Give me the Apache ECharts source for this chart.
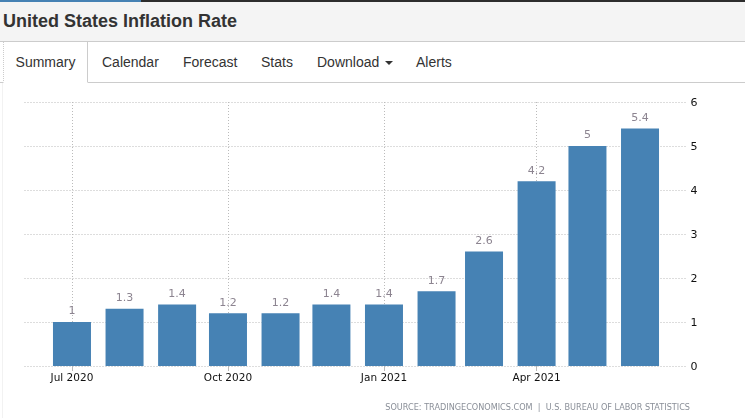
<!DOCTYPE html>
<html>
<head>
<meta charset="utf-8">
<title>United States Inflation Rate</title>
<script src="https://cdn.jsdelivr.net/npm/echarts@6/dist/echarts.min.js"></script>
<style>
	html, body { margin: 0; padding: 0; background: #fff; overflow: hidden; }
	body { width: 745px; height: 418px; position: relative; font-family: "Liberation Sans", Arial, sans-serif; }
	#topbar { height: 2px; background: #2d2d2d; }
	#topbar div { width: 141px; height: 2px; background: #4682b4; }
	#title { height: 39px; line-height: 38px; padding-left: 3px; background: #f4f4f4; border-bottom: 1px solid #ccc;
		font-size: 18px; font-weight: bold; color: #333; }
	#tabs { height: 40px; border-bottom: 1px solid #ccc; position: relative; font-size: 14px; color: #333; }
	#tabs span { position: absolute; top: 12px; }
	#tabs .active { left: 3px; top: 0; width: 83px; height: 40px; background: #fff; border-left: 1px dotted #ccc;
		border-right: 1px solid #ccc; border-bottom: 1px solid #fff; line-height: 40px; text-align: center; }
	#caret { display: inline-block; margin-left: 6px; vertical-align: 2px; border-top: 4px solid #333;
		border-left: 4px solid transparent; border-right: 4px solid transparent; }
	#rail { position: absolute; left: 2px; top: 83px; width: 1px; height: 335px; background: #f2f2f2; }
	#main { position: absolute; left: 0; top: 83px; width: 745px; height: 335px; }
</style>
</head>
<body>
<div id="topbar"><div></div></div>
<div id="title">United States Inflation Rate</div>
<div id="tabs">
	<span class="active">Summary</span>
	<span style="left:102px">Calendar</span>
	<span style="left:183px">Forecast</span>
	<span style="left:261px">Stats</span>
	<span style="left:317px">Download<i id="caret"></i></span>
	<span style="left:416px">Alerts</span>
</div>
<div id="rail"></div>
<div id="main"></div>
<script>
// monthly readings
var months = ['2020-07-01', '2020-08-01', '2020-09-01', '2020-10-01', '2020-11-01', '2020-12-01',
	'2021-01-01', '2021-02-01', '2021-03-01', '2021-04-01', '2021-05-01', '2021-06-01'];
var rates = [1, 1.3, 1.4, 1.2, 1.2, 1.4, 1.4, 1.7, 2.6, 4.2, 5, 5.4];
var tickDates = ['2020-07-01', '2020-10-01', '2021-01-01', '2021-04-01'];
var tickLabels = ['Jul 2020', 'Oct 2020', 'Jan 2021', 'Apr 2021'];
var sourceText = 'SOURCE: TRADINGECONOMICS.COM  |  U.S. BUREAU OF LABOR STATISTICS';

function toTime(d) { return new Date(d + 'T00:00:00Z').getTime(); }
var tickTimes = tickDates.map(toTime);
var seriesData = months.map(function (m, i) { return [toTime(m), rates[i]]; });
var axisFont = '"DejaVu Sans", Verdana, sans-serif';
var gridDots = { color: '#bbb', width: 1, type: [1, 2] };

var chart = echarts.init(document.getElementById('main'), null, { renderer: 'canvas' });
chart.setOption({
	animation: false,
	grid: { left: 24.5, right: 57.5, top: 19, bottom: 52 },
	// dates sit on a plain value axis so that only the quarterly ticks are drawn
	xAxis: {
		type: 'value',
		min: toTime('2020-06-03'),
		max: toTime('2021-06-29'),
		axisLine: { show: false },
		axisTick: { show: true, length: 5, customValues: tickTimes, lineStyle: { color: '#bbb' } },
		axisLabel: {
			customValues: tickTimes,
			margin: 7,
			color: '#111',
			fontFamily: axisFont,
			fontSize: 10.5,
			hideOverlap: false,
			formatter: function (value) { return tickLabels[tickTimes.indexOf(value)]; }
		},
		splitLine: { show: true, lineStyle: gridDots }
	},
	yAxis: {
		type: 'value',
		position: 'right',
		min: 0,
		max: 6,
		interval: 1,
		axisLine: { show: false },
		axisTick: { show: false },
		axisLabel: { margin: 3, verticalAlign: 'top', lineHeight: 2, color: '#111', fontFamily: axisFont, fontSize: 11 },
		splitLine: { show: true, lineStyle: gridDots }
	},
	series: [{
		type: 'bar',
		data: seriesData,
		barWidth: 38,
		itemStyle: { color: '#4682b4' },
		label: {
			show: true,
			position: 'top',
			distance: 5,
			color: '#8c8490',
			fontFamily: axisFont,
			fontSize: 11,
			formatter: function (p) { return String(p.value[1]); }
		}
	}],
	graphic: [{
		type: 'text',
		right: 55,
		top: 321,
		style: { text: sourceText, fill: '#8a8f98', font: '8.13px ' + axisFont }
	}]
});
</script>
</body>
</html>
